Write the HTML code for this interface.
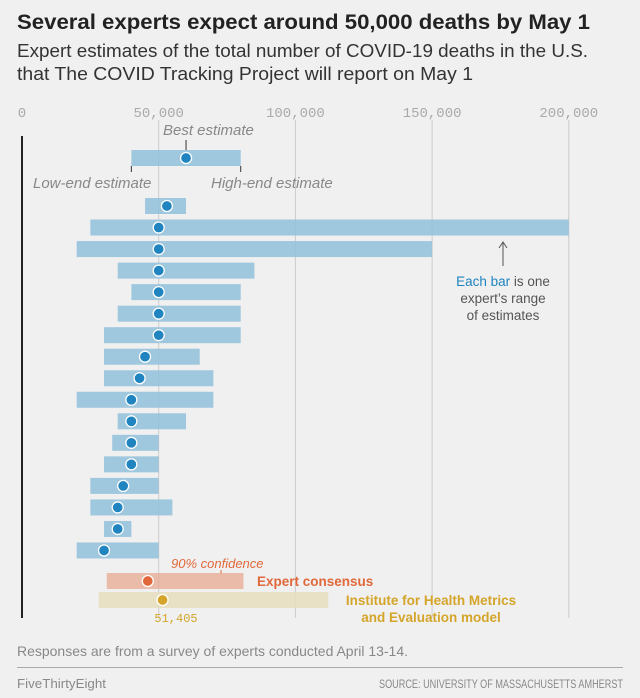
<!DOCTYPE html>
<html><head><meta charset="utf-8"><style>
body{margin:0;background:#f0f0f0;font-family:"Liberation Sans",sans-serif;}
#wrap{position:relative;width:640px;height:698px;overflow:hidden;background:#f0f0f0;}
</style></head><body>
<div id="wrap">
<svg id="chart" width="640" height="698">
<text x="17" y="29" font-size="21" font-weight="bold" fill="#222" textLength="573" lengthAdjust="spacingAndGlyphs">Several experts expect around 50,000 deaths by May 1</text>
<text x="17" y="57" font-size="18" fill="#333" textLength="571" lengthAdjust="spacingAndGlyphs">Expert estimates of the total number of COVID-19 deaths in the U.S.</text>
<text x="17" y="80" font-size="18" fill="#333" textLength="456" lengthAdjust="spacingAndGlyphs">that The COVID Tracking Project will report on May 1</text>
<g id="grid"></g>
<g id="bars"></g>
<text x="17" y="656" font-size="14" fill="#888" textLength="391" lengthAdjust="spacingAndGlyphs">Responses are from a survey of experts conducted April 13-14.</text>
<line x1="17" x2="623" y1="667.5" y2="667.5" stroke="#aaa" stroke-width="1"/>
<text x="17" y="688" font-size="13" fill="#888" textLength="89" lengthAdjust="spacingAndGlyphs">FiveThirtyEight</text>
<text x="379" y="688" font-size="12" fill="#888" textLength="244" lengthAdjust="spacingAndGlyphs">SOURCE: UNIVERSITY OF MASSACHUSETTS AMHERST</text>
</svg>
</div>
<script>
const tickValues=[0,50000,100000,150000,200000];
const tickLabels=["0","50,000","100,000","150,000","200,000"];
const lows=[45000,25000,20000,35000,40000,35000,30000,30000,30000,20000,35000,33000,30000,25000,25000,30000,20000];
const highs=[60000,200000,150000,85000,80000,80000,80000,65000,70000,70000,60000,50000,50000,50000,55000,40000,50000];
const bests=[53000,50000,50000,50000,50000,50000,50000,45000,43000,40000,40000,40000,40000,37000,35000,35000,30000];
const sampleRange=[40000,80000,60000];
const consensusRange=[31000,81000,46000];
const ihmeRange=[28000,112000,51405];
const NS="http://www.w3.org/2000/svg";
const x=v=>22+v*0.002734;
const rowY=i=>206+i*21.53;
function mk(tag,attrs,parent){const e=document.createElementNS(NS,tag);for(const k in attrs)e.setAttribute(k,attrs[k]);parent.appendChild(e);return e;}
const grid=document.getElementById('grid'),bars=document.getElementById('bars');
tickValues.forEach((v,i)=>{
 if(i>0){const l=mk('line',{x1:x(v),x2:x(v),y1:120,y2:618,stroke:'#ccc','stroke-width':1},grid);
 
 }
 const t=mk('text',{x:x(v),y:117,'font-size':14,fill:'#aaa','text-anchor':'middle','font-family':'Liberation Mono, monospace'},grid);
 t.textContent=tickLabels[i];
 
 
});
const ax=mk('line',{x1:22,x2:22,y1:136,y2:618,stroke:'#222','stroke-width':2},grid);


function bar(lo,hi,best,y,fill,dot,name){
 const r=mk('rect',{x:x(lo),y:y-8,width:x(hi)-x(lo),height:16,fill:fill},bars);
 
 
 const c=mk('circle',{cx:x(best),cy:y,r:5.5,fill:dot,stroke:'#fff','stroke-width':1.3},bars);
 
 
}
bar(sampleRange[0],sampleRange[1],sampleRange[2],158,'rgba(145,192,218,0.85)','#1f84bf','example');
mk('line',{x1:x(sampleRange[2]),x2:x(sampleRange[2]),y1:140,y2:150,stroke:'#333'},bars);
mk('line',{x1:x(sampleRange[0]),x2:x(sampleRange[0]),y1:166,y2:172,stroke:'#333'},bars);
mk('line',{x1:x(sampleRange[1]),x2:x(sampleRange[1]),y1:166,y2:172,stroke:'#333'},bars);
function txt(s,a,name){const t=mk('text',a,bars);t.textContent=s;return t;}
txt('Best estimate',{x:163,y:135,'font-size':15,'font-style':'italic',fill:'#888'},'best-estimate-label');
txt('Low-end estimate',{x:33,y:188,'font-size':15,'font-style':'italic',fill:'#888'},'low-end-label');
txt('High-end estimate',{x:211,y:188,'font-size':15,'font-style':'italic',fill:'#888'},'high-end-label');
lows.forEach((lo,i)=>bar(lo,highs[i],bests[i],rowY(i),'rgba(145,192,218,0.85)','#1f84bf','expert-'+(i+1)));
mk('line',{x1:503,x2:503,y1:243,y2:266,stroke:'#555'},bars);
mk('path',{d:'M499,248 L503,242 L507,248',fill:'none',stroke:'#555'},bars);
const ea=txt('',{x:503,y:286,'font-size':13.5,'text-anchor':'middle',fill:'#555'},'each-bar-note');
const s1=document.createElementNS(NS,'tspan');s1.setAttribute('fill','#1f84bf');s1.textContent='Each bar';ea.appendChild(s1);
const s2=document.createElementNS(NS,'tspan');s2.textContent=' is one';ea.appendChild(s2);
txt("expert’s range",{x:503,y:303,'font-size':13.5,'text-anchor':'middle',fill:'#555'},'each-bar-note-2');
txt('of estimates',{x:503,y:320,'font-size':13.5,'text-anchor':'middle',fill:'#555'},'each-bar-note-3');
txt('90% confidence',{x:171,y:568,'font-size':13,'font-style':'italic',fill:'#e0683b'},'confidence-label');
mk('line',{x1:221,x2:221,y1:570,y2:574,stroke:'#e0683b'},bars);
bar(consensusRange[0],consensusRange[1],consensusRange[2],581,'rgba(232,170,145,0.75)','#e0683b','consensus');
txt('Expert consensus',{x:257,y:586,'font-size':13.5,'font-weight':'bold',fill:'#e0683b'},'consensus-label');
bar(ihmeRange[0],ihmeRange[1],ihmeRange[2],600,'rgba(232,222,190,0.85)','#d4a52a','ihme');
txt('Institute for Health Metrics',{x:431,y:605,'font-size':13.5,'font-weight':'bold','text-anchor':'middle',fill:'#d4a52a'},'ihme-label-1');
txt('and Evaluation model',{x:431,y:622,'font-size':13.5,'font-weight':'bold','text-anchor':'middle',fill:'#d4a52a'},'ihme-label-2');
txt('51,405',{x:176,y:622,'font-size':12,'text-anchor':'middle',fill:'#d4a52a','font-family':'Liberation Mono, monospace'},'ihme-value-label');
</script>
</body></html>
